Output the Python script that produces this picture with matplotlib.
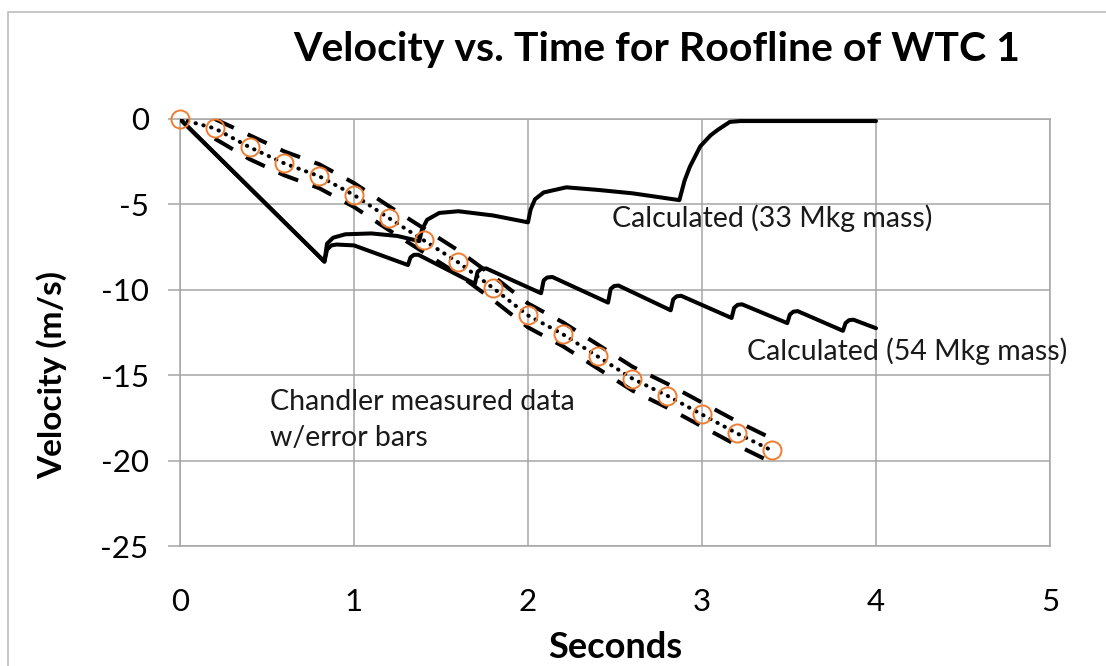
import matplotlib
matplotlib.use("Agg")
import matplotlib.pyplot as plt
from matplotlib.patches import Rectangle

# ---------------- data ----------------
# Chandler measured data
t_meas = [0.0, 0.2, 0.4, 0.6, 0.8, 1.0, 1.2, 1.4, 1.6, 1.8, 2.0, 2.2, 2.4, 2.6, 2.8, 3.0, 3.2, 3.4]
v_meas = [0.0, -0.55, -1.65, -2.6, -3.35, -4.45, -5.8, -7.1, -8.4, -9.9, -11.5, -12.6, -13.9,
          -15.2, -16.2, -17.3, -18.4, -19.4]
# error bounds
t_err = [0.2, 0.4, 0.6, 0.8, 1.0, 1.2, 1.4, 1.6, 1.8, 2.0, 2.2, 2.4, 2.6, 2.8, 3.0, 3.2, 3.4]
v_upper = [-0.0, -0.95, -1.9, -2.65, -3.75, -5.1, -6.4, -7.7, -9.2, -10.8, -11.9, -13.2,
           -14.5, -15.5, -16.6, -17.7, -18.7]
v_lower = [-1.15, -2.35, -3.3, -4.05, -5.15, -6.5, -7.8, -9.1, -10.6, -12.2, -13.3, -14.6,
           -15.9, -16.9, -18.0, -19.1, -20.1]

# Calculated (54 Mkg mass)
t_54 = [0.0, 0.83, 0.845, 0.87, 0.90, 1.0, 1.31, 1.325, 1.345, 1.37, 1.695, 1.71, 1.73, 1.76,
        2.075, 2.09, 2.11, 2.14, 2.46, 2.475, 2.495, 2.52, 2.82, 2.835, 2.855, 2.88, 3.17,
        3.185, 3.205, 3.23, 3.49, 3.505, 3.525, 3.55, 3.81, 3.825, 3.845, 3.87, 4.0]
v_54 = [0.0, -8.35, -7.65, -7.4, -7.35, -7.4, -8.55, -8.1, -7.95, -7.95, -9.65, -8.95, -8.78,
        -8.75, -10.2, -9.45, -9.28, -9.25, -10.75, -9.95, -9.78, -9.75, -11.2, -10.55, -10.38,
        -10.35, -11.65, -11.05, -10.88, -10.85, -11.95, -11.45, -11.28, -11.25, -12.4,
        -11.95, -11.78, -11.75, -12.25]

# Calculated (33 Mkg mass)
t_33 = [0.0, 0.83, 0.845, 0.88, 0.95, 1.1, 1.25, 1.375, 1.39, 1.42, 1.49, 1.6, 1.8, 2.0,
        2.015, 2.04, 2.09, 2.22, 2.4, 2.6, 2.87, 2.9, 2.93, 2.99, 3.05, 3.09, 3.16, 3.22, 4.0]
v_33 = [0.0, -8.35, -7.3, -6.95, -6.75, -6.7, -6.85, -7.15, -6.5, -5.9, -5.5, -5.4, -5.65,
        -6.05, -5.3, -4.7, -4.3, -4.0, -4.15, -4.35, -4.75, -3.6, -2.8, -1.6, -0.95, -0.64,
        -0.17, -0.12, -0.12]

x_ticks = [0, 1, 2, 3, 4, 5]
y_ticks = [0, -5, -10, -15, -20, -25]

title = "Velocity vs. Time for Roofline of WTC 1"
xlabel = "Seconds"
ylabel = "Velocity (m/s)"
label_33 = "Calculated (33 Mkg mass)"
label_54 = "Calculated (54 Mkg mass)"
label_meas = "Chandler measured data\nw/error bars"

# ---------------- style ----------------
plt.rcParams['font.family'] = ['Lato', 'DejaVu Sans']
W, H = 1106, 666
fig = plt.figure(figsize=(W / 100, H / 100), dpi=100)
fig.patch.set_facecolor('white')

# outer frame (top & left visible)
fig.patches.append(Rectangle((8 / W, -0.1), 1.2, 1.1 - 12 / H, transform=fig.transFigure,
                             fill=False, edgecolor='#BDBDBD', linewidth=1.2))

L, R, T, B = 180, 1050, 119, 546
ax = fig.add_axes([L / W, 1 - B / H, (R - L) / W, (B - T) / H])

grid_c = '#A6A6A6'
ax.set_xlim(0, 5)
ax.set_ylim(-25, 0)
ax.set_xticks(x_ticks)
ax.set_yticks(y_ticks)
ax.set_xticklabels([str(v) for v in x_ticks])
ax.set_yticklabels([str(v) for v in y_ticks])
ax.grid(True, color=grid_c, linewidth=1.1)
ax.set_axisbelow(True)
for s in ax.spines.values():
    s.set_color(grid_c)
    s.set_linewidth(1.1)
ax.tick_params(axis='x', length=0, pad=30, labelsize=22.5, labelcolor='black')
ax.tick_params(axis='y', length=8.5, width=1.1, color=grid_c, pad=14, labelsize=22.5,
               labelcolor='black')

lw = 2.9
ax.plot(t_54, v_54, color='black', linewidth=lw, solid_joinstyle='round',
        solid_capstyle='round', zorder=3)
ax.plot(t_33, v_33, color='black', linewidth=lw, solid_joinstyle='round',
        solid_capstyle='round', zorder=3)

ax.plot(t_err, v_upper, color='black', linewidth=lw, linestyle=(0, (5.2, 3.8)), zorder=4)
ax.plot(t_err, v_lower, color='black', linewidth=lw, linestyle=(0, (5.2, 3.8)), zorder=4)
ax.plot(t_meas, v_meas, color='black', linewidth=lw, linestyle=(0, (0.1, 1.9)),
        dash_capstyle='round', zorder=4)
ax.plot(t_meas, v_meas, linestyle='none', marker='o', markersize=13,
        markerfacecolor='none', markeredgecolor='#ED7D31', markeredgewidth=1.4, zorder=5,
        clip_on=False)

ax.text(2.48, -5.8, label_33, fontsize=20.5, va='center', ha='left', color='#1a1a1a')
ax.text(3.26, -13.6, label_54, fontsize=20.5, va='center', ha='left', color='#1a1a1a',
        clip_on=False)
ax.text(0.52, -17.6, label_meas, fontsize=20.5, va='center', ha='left', color='#1a1a1a',
        linespacing=1.48)

fig.text(657 / W, 1 - 50 / H, title, fontsize=29.5, fontweight='bold', ha='center', va='center')
fig.text((L + R) / 2 / W, 1 - 648 / H, xlabel, fontsize=26, fontweight='bold', ha='center',
         va='center')
fig.text(52 / W, 1 - 375 / H, ylabel, fontsize=24, fontweight='bold', ha='center',
         va='center', rotation=90)

fig.savefig('out.png', dpi=100)
